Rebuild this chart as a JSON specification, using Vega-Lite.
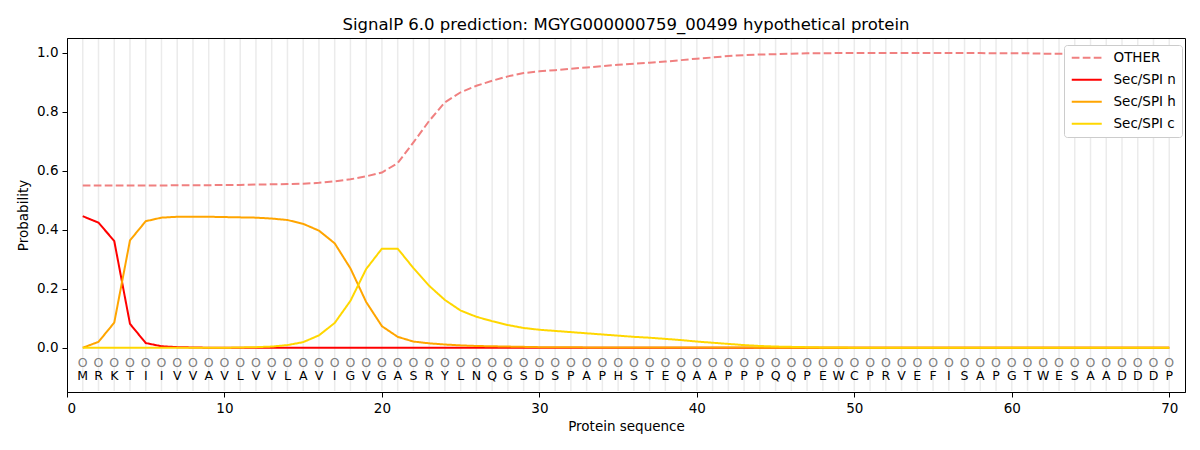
{
  "$schema": "https://vega.github.io/schema/vega-lite/v6.json",
  "autosize": "none",
  "width": 1118,
  "height": 354,
  "padding": {"left": 67, "top": 38, "right": 15, "bottom": 58},
  "background": "white",
  "title": {"text": "SignalP 6.0 prediction: MGYG000000759_00499 hypothetical protein", "fontSize": 16.5, "fontWeight": "normal", "offset": 5, "color": "black"},
  "config": {
    "font": "DejaVu Sans",
    "view": {"stroke": "black", "strokeWidth": 1},
    "axis": {"domainColor": "black", "tickColor": "black", "labelColor": "black", "titleColor": "black", "labelFontSize": 13.5, "titleFontSize": 13.5, "titleFontWeight": "normal", "tickSize": 5, "labelPadding": 4, "grid": false}
  },
  "data": {"values": [
    {"pos": 1, "aa": "M", "OTHER": 0.550, "Sec/SPI n": 0.446, "Sec/SPI h": 0.000, "Sec/SPI c": 0.000},
    {"pos": 2, "aa": "R", "OTHER": 0.550, "Sec/SPI n": 0.424, "Sec/SPI h": 0.020, "Sec/SPI c": 0.000},
    {"pos": 3, "aa": "K", "OTHER": 0.550, "Sec/SPI n": 0.362, "Sec/SPI h": 0.085, "Sec/SPI c": 0.000},
    {"pos": 4, "aa": "T", "OTHER": 0.550, "Sec/SPI n": 0.081, "Sec/SPI h": 0.364, "Sec/SPI c": 0.000},
    {"pos": 5, "aa": "I", "OTHER": 0.550, "Sec/SPI n": 0.016, "Sec/SPI h": 0.429, "Sec/SPI c": 0.000},
    {"pos": 6, "aa": "I", "OTHER": 0.550, "Sec/SPI n": 0.005, "Sec/SPI h": 0.441, "Sec/SPI c": 0.000},
    {"pos": 7, "aa": "V", "OTHER": 0.551, "Sec/SPI n": 0.002, "Sec/SPI h": 0.444, "Sec/SPI c": 0.000},
    {"pos": 8, "aa": "V", "OTHER": 0.551, "Sec/SPI n": 0.001, "Sec/SPI h": 0.444, "Sec/SPI c": 0.000},
    {"pos": 9, "aa": "A", "OTHER": 0.551, "Sec/SPI n": 0.000, "Sec/SPI h": 0.444, "Sec/SPI c": 0.000},
    {"pos": 10, "aa": "V", "OTHER": 0.552, "Sec/SPI n": 0.000, "Sec/SPI h": 0.443, "Sec/SPI c": 0.000},
    {"pos": 11, "aa": "L", "OTHER": 0.552, "Sec/SPI n": 0.000, "Sec/SPI h": 0.442, "Sec/SPI c": 0.001},
    {"pos": 12, "aa": "V", "OTHER": 0.553, "Sec/SPI n": 0.000, "Sec/SPI h": 0.441, "Sec/SPI c": 0.002},
    {"pos": 13, "aa": "V", "OTHER": 0.554, "Sec/SPI n": 0.000, "Sec/SPI h": 0.438, "Sec/SPI c": 0.004},
    {"pos": 14, "aa": "L", "OTHER": 0.555, "Sec/SPI n": 0.000, "Sec/SPI h": 0.433, "Sec/SPI c": 0.009},
    {"pos": 15, "aa": "A", "OTHER": 0.556, "Sec/SPI n": 0.000, "Sec/SPI h": 0.420, "Sec/SPI c": 0.019},
    {"pos": 16, "aa": "V", "OTHER": 0.559, "Sec/SPI n": 0.000, "Sec/SPI h": 0.397, "Sec/SPI c": 0.042},
    {"pos": 17, "aa": "I", "OTHER": 0.564, "Sec/SPI n": 0.000, "Sec/SPI h": 0.354, "Sec/SPI c": 0.084},
    {"pos": 18, "aa": "G", "OTHER": 0.571, "Sec/SPI n": 0.000, "Sec/SPI h": 0.269, "Sec/SPI c": 0.159},
    {"pos": 19, "aa": "V", "OTHER": 0.581, "Sec/SPI n": 0.000, "Sec/SPI h": 0.155, "Sec/SPI c": 0.267},
    {"pos": 20, "aa": "G", "OTHER": 0.594, "Sec/SPI n": 0.000, "Sec/SPI h": 0.073, "Sec/SPI c": 0.336},
    {"pos": 21, "aa": "A", "OTHER": 0.626, "Sec/SPI n": 0.000, "Sec/SPI h": 0.037, "Sec/SPI c": 0.336},
    {"pos": 22, "aa": "S", "OTHER": 0.696, "Sec/SPI n": 0.000, "Sec/SPI h": 0.021, "Sec/SPI c": 0.270},
    {"pos": 23, "aa": "R", "OTHER": 0.769, "Sec/SPI n": 0.000, "Sec/SPI h": 0.015, "Sec/SPI c": 0.210},
    {"pos": 24, "aa": "Y", "OTHER": 0.832, "Sec/SPI n": 0.000, "Sec/SPI h": 0.011, "Sec/SPI c": 0.162},
    {"pos": 25, "aa": "L", "OTHER": 0.866, "Sec/SPI n": 0.000, "Sec/SPI h": 0.008, "Sec/SPI c": 0.126},
    {"pos": 26, "aa": "N", "OTHER": 0.888, "Sec/SPI n": 0.000, "Sec/SPI h": 0.006, "Sec/SPI c": 0.105},
    {"pos": 27, "aa": "Q", "OTHER": 0.905, "Sec/SPI n": 0.000, "Sec/SPI h": 0.005, "Sec/SPI c": 0.090},
    {"pos": 28, "aa": "G", "OTHER": 0.920, "Sec/SPI n": 0.000, "Sec/SPI h": 0.004, "Sec/SPI c": 0.077},
    {"pos": 29, "aa": "S", "OTHER": 0.931, "Sec/SPI n": 0.000, "Sec/SPI h": 0.003, "Sec/SPI c": 0.067},
    {"pos": 30, "aa": "D", "OTHER": 0.937, "Sec/SPI n": 0.000, "Sec/SPI h": 0.002, "Sec/SPI c": 0.061},
    {"pos": 31, "aa": "S", "OTHER": 0.941, "Sec/SPI n": 0.000, "Sec/SPI h": 0.002, "Sec/SPI c": 0.057},
    {"pos": 32, "aa": "P", "OTHER": 0.946, "Sec/SPI n": 0.000, "Sec/SPI h": 0.002, "Sec/SPI c": 0.053},
    {"pos": 33, "aa": "A", "OTHER": 0.950, "Sec/SPI n": 0.000, "Sec/SPI h": 0.001, "Sec/SPI c": 0.049},
    {"pos": 34, "aa": "P", "OTHER": 0.955, "Sec/SPI n": 0.000, "Sec/SPI h": 0.001, "Sec/SPI c": 0.045},
    {"pos": 35, "aa": "H", "OTHER": 0.959, "Sec/SPI n": 0.000, "Sec/SPI h": 0.001, "Sec/SPI c": 0.041},
    {"pos": 36, "aa": "S", "OTHER": 0.963, "Sec/SPI n": 0.000, "Sec/SPI h": 0.001, "Sec/SPI c": 0.037},
    {"pos": 37, "aa": "T", "OTHER": 0.966, "Sec/SPI n": 0.000, "Sec/SPI h": 0.001, "Sec/SPI c": 0.034},
    {"pos": 38, "aa": "E", "OTHER": 0.970, "Sec/SPI n": 0.000, "Sec/SPI h": 0.001, "Sec/SPI c": 0.030},
    {"pos": 39, "aa": "Q", "OTHER": 0.975, "Sec/SPI n": 0.000, "Sec/SPI h": 0.001, "Sec/SPI c": 0.026},
    {"pos": 40, "aa": "A", "OTHER": 0.980, "Sec/SPI n": 0.000, "Sec/SPI h": 0.001, "Sec/SPI c": 0.021},
    {"pos": 41, "aa": "A", "OTHER": 0.984, "Sec/SPI n": 0.000, "Sec/SPI h": 0.001, "Sec/SPI c": 0.017},
    {"pos": 42, "aa": "P", "OTHER": 0.989, "Sec/SPI n": 0.000, "Sec/SPI h": 0.001, "Sec/SPI c": 0.013},
    {"pos": 43, "aa": "P", "OTHER": 0.992, "Sec/SPI n": 0.000, "Sec/SPI h": 0.001, "Sec/SPI c": 0.009},
    {"pos": 44, "aa": "P", "OTHER": 0.994, "Sec/SPI n": 0.000, "Sec/SPI h": 0.000, "Sec/SPI c": 0.006},
    {"pos": 45, "aa": "Q", "OTHER": 0.995, "Sec/SPI n": 0.000, "Sec/SPI h": 0.000, "Sec/SPI c": 0.004},
    {"pos": 46, "aa": "Q", "OTHER": 0.997, "Sec/SPI n": 0.000, "Sec/SPI h": 0.000, "Sec/SPI c": 0.003},
    {"pos": 47, "aa": "P", "OTHER": 0.998, "Sec/SPI n": 0.000, "Sec/SPI h": 0.000, "Sec/SPI c": 0.002},
    {"pos": 48, "aa": "E", "OTHER": 0.998, "Sec/SPI n": 0.000, "Sec/SPI h": 0.000, "Sec/SPI c": 0.001},
    {"pos": 49, "aa": "W", "OTHER": 0.999, "Sec/SPI n": 0.000, "Sec/SPI h": 0.000, "Sec/SPI c": 0.001},
    {"pos": 50, "aa": "C", "OTHER": 0.999, "Sec/SPI n": 0.000, "Sec/SPI h": 0.000, "Sec/SPI c": 0.000},
    {"pos": 51, "aa": "P", "OTHER": 0.999, "Sec/SPI n": 0.000, "Sec/SPI h": 0.000, "Sec/SPI c": 0.000},
    {"pos": 52, "aa": "R", "OTHER": 0.999, "Sec/SPI n": 0.000, "Sec/SPI h": 0.000, "Sec/SPI c": 0.000},
    {"pos": 53, "aa": "V", "OTHER": 0.999, "Sec/SPI n": 0.000, "Sec/SPI h": 0.000, "Sec/SPI c": 0.000},
    {"pos": 54, "aa": "E", "OTHER": 0.999, "Sec/SPI n": 0.000, "Sec/SPI h": 0.000, "Sec/SPI c": 0.000},
    {"pos": 55, "aa": "F", "OTHER": 0.999, "Sec/SPI n": 0.000, "Sec/SPI h": 0.000, "Sec/SPI c": 0.000},
    {"pos": 56, "aa": "I", "OTHER": 0.999, "Sec/SPI n": 0.000, "Sec/SPI h": 0.000, "Sec/SPI c": 0.000},
    {"pos": 57, "aa": "S", "OTHER": 0.999, "Sec/SPI n": 0.000, "Sec/SPI h": 0.000, "Sec/SPI c": 0.000},
    {"pos": 58, "aa": "A", "OTHER": 0.999, "Sec/SPI n": 0.000, "Sec/SPI h": 0.000, "Sec/SPI c": 0.000},
    {"pos": 59, "aa": "P", "OTHER": 0.998, "Sec/SPI n": 0.000, "Sec/SPI h": 0.000, "Sec/SPI c": 0.000},
    {"pos": 60, "aa": "G", "OTHER": 0.998, "Sec/SPI n": 0.000, "Sec/SPI h": 0.000, "Sec/SPI c": 0.000},
    {"pos": 61, "aa": "T", "OTHER": 0.998, "Sec/SPI n": 0.000, "Sec/SPI h": 0.000, "Sec/SPI c": 0.000},
    {"pos": 62, "aa": "W", "OTHER": 0.997, "Sec/SPI n": 0.000, "Sec/SPI h": 0.000, "Sec/SPI c": 0.000},
    {"pos": 63, "aa": "E", "OTHER": 0.997, "Sec/SPI n": 0.000, "Sec/SPI h": 0.000, "Sec/SPI c": 0.000},
    {"pos": 64, "aa": "S", "OTHER": 0.997, "Sec/SPI n": 0.000, "Sec/SPI h": 0.000, "Sec/SPI c": 0.000},
    {"pos": 65, "aa": "A", "OTHER": 0.996, "Sec/SPI n": 0.000, "Sec/SPI h": 0.000, "Sec/SPI c": 0.000},
    {"pos": 66, "aa": "A", "OTHER": 0.996, "Sec/SPI n": 0.000, "Sec/SPI h": 0.000, "Sec/SPI c": 0.000},
    {"pos": 67, "aa": "D", "OTHER": 0.995, "Sec/SPI n": 0.000, "Sec/SPI h": 0.000, "Sec/SPI c": 0.000},
    {"pos": 68, "aa": "D", "OTHER": 0.995, "Sec/SPI n": 0.000, "Sec/SPI h": 0.000, "Sec/SPI c": 0.000},
    {"pos": 69, "aa": "D", "OTHER": 0.994, "Sec/SPI n": 0.000, "Sec/SPI h": 0.000, "Sec/SPI c": 0.000},
    {"pos": 70, "aa": "P", "OTHER": 0.994, "Sec/SPI n": 0.000, "Sec/SPI h": 0.000, "Sec/SPI c": 0.000}
  ]},
  "encoding": {
    "x": {"field": "pos", "type": "quantitative", "title": "Protein sequence",
      "scale": {"domain": [0, 71], "nice": false, "zero": false},
      "axis": {"values": [0, 10, 20, 30, 40, 50, 60, 70], "titlePadding": 5}}
  },
  "layer": [
    {
      "mark": {"type": "rule", "color": "#ebebeb", "strokeWidth": 1.5},
      "encoding": {
        "y": {"datum": 1.047, "type": "quantitative", "title": "Probability"},
        "y2": {"datum": -0.147}
      }
    },
    {
      "transform": [{"fold": ["OTHER", "Sec/SPI n", "Sec/SPI h", "Sec/SPI c"], "as": ["series", "prob"]}],
      "mark": {"type": "line", "strokeWidth": 2},
      "encoding": {
        "y": {"field": "prob", "type": "quantitative", "title": "Probability",
          "scale": {"domain": [-0.15, 1.05], "nice": false, "zero": false},
          "axis": {"values": [0, 0.2, 0.4, 0.6, 0.8, 1.0], "format": ".1f", "titlePadding": 6}},
        "color": {"field": "series", "type": "nominal",
          "scale": {"domain": ["OTHER", "Sec/SPI n", "Sec/SPI h", "Sec/SPI c"], "range": ["#f08080", "#ff0000", "#ffa500", "#ffd700"]},
          "legend": {"orient": "none", "legendX": 997, "legendY": 7, "title": null, "fillColor": "white", "strokeColor": "#cccccc", "cornerRadius": 3, "padding": 6, "rowPadding": 7, "labelFontSize": 13.5, "labelColor": "black", "symbolType": "M-1,0H5", "symbolSize": 100, "symbolStrokeWidth": 2, "labelOffset": 30}},
        "strokeDash": {"field": "series", "type": "nominal",
          "scale": {"domain": ["OTHER", "Sec/SPI n", "Sec/SPI h", "Sec/SPI c"], "range": [[7.7, 3.3], [1, 0], [1, 0], [1, 0]]},
          "legend": {"orient": "none", "legendX": 997, "legendY": 7, "title": null}}
      }
    },
    {
      "mark": {"type": "text", "text": "O", "color": "#808080", "fontSize": 12.5, "baseline": "middle", "align": "center"},
      "encoding": {
        "y": {"datum": -0.05, "type": "quantitative", "title": "Probability"}
      }
    },
    {
      "mark": {"type": "text", "color": "black", "fontSize": 12.5, "baseline": "middle", "align": "center"},
      "encoding": {
        "y": {"datum": -0.095, "type": "quantitative", "title": "Probability"},
        "text": {"field": "aa"}
      }
    }
  ]
}
